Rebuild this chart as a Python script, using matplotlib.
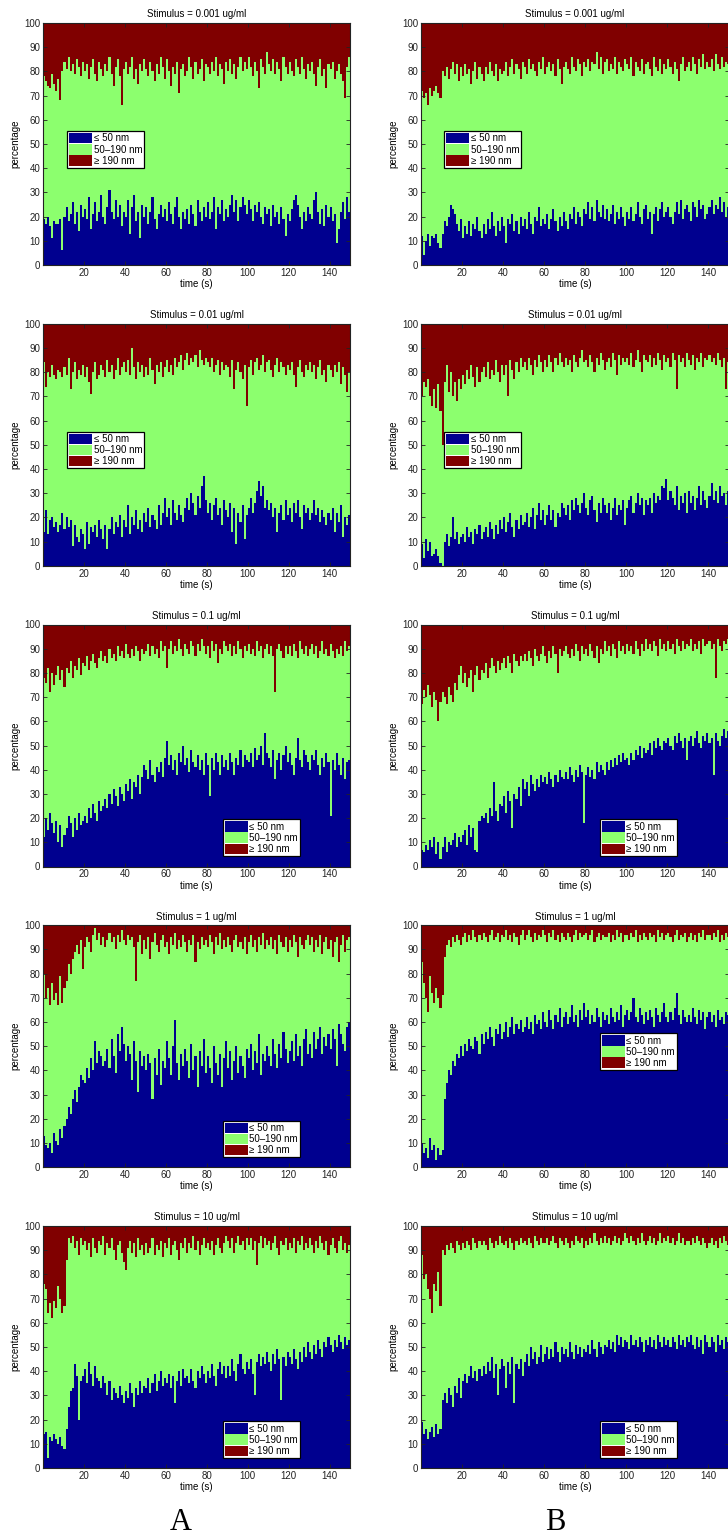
import numpy as np
import matplotlib
matplotlib.use("Agg")
import matplotlib.pyplot as plt

plt.rcParams['font.family'] = ['Liberation Sans', 'DejaVu Sans']

# ---- size-class fractions (percent), one value per second, t = 0..149 ----
# "small" = share of particles <= 50 nm ; "upper" = share <= 190 nm (small + mid)

small_A1 = [19,17,20,16,11,18,17,17,19,6, 20,24,18,21,26,17,22,14,25,20,
            23,19,28,15,21,26,18,22,29,20, 17,24,31,22,19,27,20,25,16,22,
            20,27,13,24,29,18,22,11,25,20, 24,17,22,28,19,15,21,25,20,23,
            18,26,21,17,24,28,20,15,22,19, 23,17,25,21,16,27,22,18,24,20,
            26,19,22,28,15,24,21,27,18,23, 20,25,29,22,27,18,24,28,25,21,
            27,23,18,25,22,26,20,17,24,21, 23,16,25,20,22,17,24,19,12,21,
            18,23,27,29,25,20,15,22,18,24, 21,19,27,30,22,17,23,16,25,20,
            24,18,21,9,15,22,26,19,28,22]
upper_A1 = [78,76,74,73,79,75,72,77,68,80, 84,81,86,80,83,79,85,82,78,84,
            80,83,77,82,85,79,76,84,81,78, 83,80,86,79,74,82,85,78,66,81,
            84,79,82,86,77,81,75,83,80,85, 81,78,84,80,76,83,79,86,82,77,
            85,80,74,82,79,84,71,81,83,78, 80,86,82,77,84,79,81,85,76,83,
            82,79,84,80,86,78,83,81,75,84, 80,85,79,83,77,82,86,80,84,81,
            86,82,78,84,80,73,85,82,79,88, 83,80,85,79,84,81,76,86,82,79,
            84,80,78,85,82,79,86,81,77,83, 80,84,79,74,82,85,78,81,73,83,
            81,84,77,80,83,79,76,69,82,86]

small_B1 = [12,4,10,13,8,12,11,13,9,7, 13,18,16,20,25,23,21,17,14,19,
            11,16,13,18,12,17,15,20,14,11, 17,13,19,15,22,16,12,18,14,20,
            16,9,19,17,21,14,18,13,20,16, 19,15,22,17,13,20,18,24,16,19,
            17,21,15,19,23,18,14,20,16,22, 18,15,21,19,24,17,22,20,16,23,
            21,26,19,24,18,27,22,20,25,19, 23,18,21,25,17,22,19,24,20,16,
            22,19,24,18,21,26,20,17,23,25, 19,22,13,21,24,18,23,26,20,22,
            24,20,17,22,26,21,27,19,23,25, 22,18,26,24,20,27,23,25,19,21,
            24,27,21,25,23,28,22,26,20,24]
upper_B1 = [72,69,71,66,73,70,72,74,71,69, 80,78,82,77,81,84,79,83,76,82,
            78,83,79,81,75,80,84,77,82,79, 76,82,79,84,80,78,83,76,81,79,
            80,84,78,82,85,79,83,81,77,84, 82,79,85,81,83,80,78,84,81,86,
            79,82,84,80,83,78,85,81,75,82, 84,81,79,86,82,80,85,83,78,84,
            82,85,80,84,83,88,81,86,79,84, 85,80,83,81,86,79,84,82,80,85,
            83,81,86,78,84,82,80,85,79,83, 84,81,78,86,82,80,85,79,83,81,
            85,82,79,84,81,76,83,86,80,82, 84,80,86,83,79,85,82,87,81,84,
            82,85,80,87,83,81,86,82,84,83]

small_A2 = [14,23,13,19,20,16,18,14,17,22, 15,20,16,19,8,17,12,10,15,13,
            7,18,9,16,14,17,12,19,15,11, 17,7,15,20,13,18,16,21,12,19,
            16,25,13,20,17,23,15,19,14,22, 18,24,16,21,19,15,25,17,22,28,
            20,24,17,27,22,19,25,21,18,24, 28,23,30,26,21,29,24,33,37,27,
            22,26,19,25,28,21,24,17,27,23, 20,26,14,24,9,22,18,25,11,21,
            24,28,22,26,31,35,29,33,24,27, 23,26,20,24,14,22,25,19,27,21,
            24,18,26,22,27,20,15,25,22,24, 19,22,27,21,24,18,23,20,17,22,
            19,24,14,22,18,25,12,20,17,21]
upper_A2 = [84,74,80,78,83,79,77,81,80,78, 82,79,86,73,80,84,77,81,79,83,
            78,82,76,71,80,84,77,79,83,81, 78,85,80,83,77,81,86,79,82,84,
            80,85,79,90,82,77,84,80,83,78, 82,79,86,81,75,83,80,84,78,82,
            85,80,83,79,86,82,84,87,81,85, 88,83,86,84,87,82,89,85,83,86,
            84,82,86,80,83,85,79,84,81,83, 82,78,85,73,81,84,80,77,83,66,
            82,85,79,84,86,81,83,87,80,84, 85,81,78,83,86,80,84,82,79,83,
            81,84,79,74,82,85,80,78,83,81, 84,80,83,77,82,85,79,81,76,83,
            81,78,83,80,84,75,82,79,72,80]

small_B2 = [9,3,11,6,10,4,5,7,4,1, 0,10,13,8,12,20,11,14,9,12,
            13,10,16,12,14,9,15,13,17,11, 14,16,12,18,15,11,17,13,19,15,
            20,14,18,22,16,12,19,15,21,17, 18,22,16,20,24,15,21,26,19,23,
            17,21,25,19,23,16,22,20,26,24, 21,25,19,27,23,28,25,22,26,30,
            24,21,27,29,23,18,26,22,28,25, 22,26,19,24,28,21,25,23,27,17,
            24,27,29,22,26,30,25,28,21,27, 25,28,22,30,26,29,27,33,32,36,
            27,31,28,25,33,23,29,26,30,22, 31,26,29,23,28,33,25,31,27,24,
            29,34,27,31,26,33,29,30,25,31]
upper_B2 = [70,76,74,77,70,66,73,65,75,64, 50,76,83,72,80,70,76,68,77,73,
            79,75,81,77,83,78,74,82,76,80, 82,78,84,77,81,79,85,80,76,83,
            79,83,70,85,81,77,84,80,86,82, 84,81,86,83,79,85,82,87,84,80,
            85,82,87,84,80,86,83,88,84,82, 86,83,85,80,87,84,82,86,89,84,
            85,82,87,84,80,86,83,88,85,81, 84,86,82,88,85,79,87,83,86,84,
            86,83,88,82,85,89,84,80,87,85, 84,87,82,86,83,88,85,81,87,84,
            86,82,88,85,73,87,84,86,82,88, 85,83,87,81,86,84,88,82,86,85,
            87,84,86,83,88,85,82,86,73,84]

small_A3 = [12,20,15,22,18,14,19,10,17,8, 13,16,21,18,12,20,15,22,17,19,
            21,18,24,20,26,22,19,27,23,25, 28,24,30,26,32,29,25,33,30,27,
            34,31,36,28,35,33,38,30,37,42, 40,36,44,38,35,41,39,43,37,45,
            52,42,46,40,44,38,47,43,50,42, 45,39,48,43,41,46,40,44,38,47,
            42,29,45,40,47,43,38,46,41,44, 40,47,43,38,45,42,48,41,46,44,
            43,47,41,49,44,46,50,42,55,47, 45,41,48,36,44,47,40,46,50,43,
            47,42,38,45,53,44,41,48,46,43, 40,46,44,48,42,38,45,41,47,43,
            21,44,40,47,42,38,45,36,43,44]
upper_A3 = [78,76,82,72,80,75,79,83,77,81, 74,82,80,85,78,83,81,86,79,84,
            83,87,81,85,88,84,82,86,89,85, 87,84,90,86,88,85,91,87,89,86,
            92,88,86,90,87,91,89,85,90,88, 89,92,87,91,88,90,86,93,89,91,
            82,90,93,88,91,89,94,90,87,92, 90,88,93,91,87,92,89,94,91,88,
            91,86,93,89,92,84,90,88,93,91, 89,92,87,91,88,93,90,86,91,89,
            92,88,90,87,93,89,91,86,90,92, 88,91,87,72,90,92,89,86,91,88,
            91,87,92,89,86,93,90,88,91,87, 90,92,88,91,86,89,93,88,90,87,
            92,89,86,90,88,91,87,93,89,91]

small_B3 = [7,6,9,7,11,8,12,5,10,3, 8,12,6,10,9,11,14,8,12,10,
            13,15,9,17,12,16,7,6,19,21, 20,22,18,24,21,35,23,19,26,25,
            29,22,31,27,16,30,28,33,25,36, 32,35,29,38,34,31,36,33,38,35,
            37,34,39,36,33,38,35,40,37,36, 39,36,41,38,35,40,37,42,39,18,
            38,41,37,40,36,43,39,42,40,38, 43,40,44,41,45,42,46,43,47,44,
            45,42,47,44,48,46,50,45,49,47, 48,51,46,52,49,53,50,48,52,51,
            53,50,48,54,51,55,52,49,53,44, 52,54,50,53,56,51,49,54,52,55,
            51,53,38,55,52,50,54,57,53,56]
upper_B3 = [67,73,70,75,71,66,72,69,60,68, 72,70,67,74,71,68,76,73,79,83,
            76,80,74,78,81,72,79,83,77,81, 80,84,78,82,86,83,80,85,81,84,
            86,82,87,84,80,88,85,83,87,85, 88,85,89,86,83,90,87,85,88,91,
            87,84,89,86,91,88,80,90,87,89, 91,88,86,90,87,92,89,85,91,88,
            90,87,92,89,86,91,84,90,88,93, 89,91,87,92,90,86,93,89,91,88,
            92,89,91,88,93,90,87,92,89,94, 90,92,89,93,91,87,94,90,92,89,
            93,90,92,88,94,91,89,93,90,92, 91,94,89,92,90,93,88,94,91,92,
            93,90,92,78,94,91,89,93,92,94]

small_A4 = [13,9,8,10,6,14,11,9,16,12, 17,20,25,22,28,32,27,33,38,36,
            35,41,37,45,40,52,43,48,46,42, 44,49,41,53,46,39,55,48,58,51,
            44,50,47,36,52,44,31,48,42,46, 40,47,43,28,45,38,49,34,44,41,
            52,45,38,50,61,43,36,47,42,49, 44,37,51,40,46,33,48,42,53,39,
            46,41,35,50,43,38,47,33,45,52, 41,48,36,44,50,39,46,42,37,49,
            45,51,40,48,43,55,38,47,44,50, 46,42,53,47,41,51,45,56,49,43,
            48,52,44,55,46,50,42,53,57,47, 51,45,56,49,53,58,47,54,50,55,
            49,57,53,42,59,55,51,48,58,60]
upper_A4 = [80,70,74,67,76,69,72,67,79,68, 74,77,84,80,86,89,92,88,94,82,
            91,95,93,89,96,99,94,97,92,95, 91,94,97,93,95,90,96,93,98,94,
            92,96,94,95,91,77,93,96,88,94, 90,95,86,93,97,92,89,94,96,91,
            93,88,95,92,97,90,94,91,96,93, 89,94,92,96,85,93,90,95,92,94,
            91,96,93,88,95,92,97,90,94,91, 95,92,89,94,96,91,93,90,95,88,
            93,96,91,94,89,95,92,97,90,94, 92,95,90,94,88,96,93,91,95,89,
            94,91,96,93,87,95,92,90,94,96, 92,95,89,94,91,96,88,93,95,90,
            94,87,93,95,85,92,96,89,94,95]

small_B4 = [10,6,8,4,12,7,9,3,8,5, 7,28,35,40,38,44,42,47,45,50,
            46,51,48,53,50,49,54,52,47,55, 51,56,53,58,54,50,57,55,59,53,
            56,60,54,58,62,55,59,57,61,56, 58,62,57,60,55,63,59,61,57,64,
            60,58,65,61,57,63,60,66,58,62, 64,59,62,67,60,63,58,65,61,68,
            62,65,59,63,60,66,62,58,64,61, 63,59,66,62,60,64,61,67,58,63,
            65,61,64,70,62,60,66,63,59,64, 61,65,62,58,66,63,60,64,68,62,
            60,64,61,66,72,63,59,65,62,60, 63,60,66,62,59,65,61,64,57,62,
            64,60,63,58,65,61,62,59,64,63]
upper_B4 = [85,76,70,64,79,72,68,74,70,66, 71,87,92,94,91,95,93,96,94,92,
            95,97,93,96,94,98,95,93,96,94, 97,95,93,96,98,94,95,97,93,96,
            95,98,94,96,93,97,95,92,96,98, 94,96,98,95,93,97,94,96,95,98,
            96,93,97,95,98,94,96,93,97,95, 94,97,95,93,96,98,94,97,95,96,
            97,94,96,98,93,95,97,94,96,95, 95,97,93,96,94,98,95,97,93,96,
            96,94,97,95,98,93,96,94,97,95, 94,97,95,96,93,98,95,97,94,96,
            97,95,93,96,98,94,96,95,97,93, 95,97,94,96,93,97,95,98,94,96,
            96,94,97,95,98,93,96,94,97,95]

small_A5 = [14,15,4,13,11,14,12,10,13,9, 8,16,25,32,33,43,38,20,36,38,
            41,35,44,39,34,42,37,36,33,38, 35,30,36,28,33,31,29,34,30,27,
            32,29,35,31,25,33,30,36,31,34, 33,37,31,35,39,32,36,40,34,37,
            35,39,33,38,27,36,40,34,41,37, 38,35,41,36,33,40,37,42,39,35,
            40,37,43,38,34,41,44,39,42,37, 42,38,45,40,36,43,47,41,39,44,
            41,45,39,30,44,47,42,46,43,48, 44,40,47,43,49,45,28,46,42,48,
            46,43,49,45,41,48,44,50,46,52, 48,45,51,47,53,49,46,52,50,54,
            51,48,53,50,55,52,49,54,51,53]
upper_A5 = [76,74,64,68,62,69,66,75,70,64, 67,86,95,93,96,91,94,88,95,92,
            94,90,93,87,95,91,89,94,92,96, 88,93,91,95,90,86,92,94,89,85,
            82,91,94,89,93,87,95,90,92,88, 93,89,91,95,88,92,90,94,87,93,
            91,95,88,92,94,90,86,93,91,95, 89,93,91,96,90,94,88,92,95,91,
            93,90,94,88,92,95,91,89,93,96, 94,91,95,89,93,96,92,94,90,95,
            92,95,90,94,84,93,96,91,95,92, 94,90,93,96,91,88,94,92,95,90,
            93,91,95,89,94,92,96,90,93,91, 95,92,89,94,91,96,93,90,94,88,
            92,95,91,89,94,96,90,93,89,92]

small_B5 = [19,14,16,12,15,17,13,18,14,16, 28,31,27,33,30,25,34,31,37,29,
            36,39,35,38,42,37,40,36,41,38, 42,39,44,40,46,37,43,30,41,45,
            42,33,44,39,46,27,43,41,45,38, 44,47,42,50,45,48,43,46,51,44,
            47,50,45,49,46,52,48,44,50,47, 49,46,52,48,45,51,47,50,46,49,
            48,51,47,53,49,46,52,50,47,51, 50,53,49,52,48,55,51,54,50,53,
            52,49,55,51,53,50,54,52,48,53, 51,54,50,53,49,55,52,50,54,51,
            53,50,54,52,49,55,51,53,50,54, 52,55,51,49,54,50,53,47,55,52,
            50,54,52,48,55,51,53,49,54,52]
upper_B5 = [88,78,80,74,70,64,76,73,81,67, 90,88,92,90,93,91,89,94,92,90,
            93,91,94,92,90,95,93,91,94,92, 94,92,90,95,93,91,94,92,96,93,
            92,94,91,95,93,90,94,92,95,93, 94,92,95,93,91,96,94,92,95,93,
            93,95,92,94,96,93,91,95,94,92, 95,93,91,94,92,96,94,93,95,91,
            94,92,95,93,97,94,92,95,93,96, 93,95,92,94,96,93,95,92,94,97,
            95,93,96,94,92,95,93,97,94,92, 94,96,93,95,92,94,97,93,95,94,
            96,93,95,92,94,97,93,95,92,94, 94,92,95,93,96,94,92,95,93,91,
            93,95,92,94,91,95,93,96,94,92]

stimulus = ['0.001', '0.01', '0.1', '1', '10']
size_classes = ['\u2264 50 nm', '50\u2013190 nm', '\u2265 190 nm']
column_titles = ['A', 'B']

small_cols = [[small_A1, small_A2, small_A3, small_A4, small_A5],
              [small_B1, small_B2, small_B3, small_B4, small_B5]]
upper_cols = [[upper_A1, upper_A2, upper_A3, upper_A4, upper_A5],
              [upper_B1, upper_B2, upper_B3, upper_B4, upper_B5]]

# legend placement per panel: (loc, anchor x, anchor y) in axes fractions
legend_pos = [
    [('upper left', 0.078, 0.554), ('upper left', 0.078, 0.554),
     ('lower right', 0.837, 0.043), ('lower right', 0.837, 0.041),
     ('lower right', 0.837, 0.041)],
    [('upper left', 0.075, 0.554), ('upper left', 0.075, 0.554),
     ('lower right', 0.831, 0.043), ('upper right', 0.831, 0.554),
     ('lower right', 0.831, 0.041)],
]

c_small = '#00008F'
c_mid = '#8CFF6E'
c_large = '#800000'

W, H = 728, 1540
fig = plt.figure(figsize=(W / 100, H / 100), dpi=100)

col_x = [43, 421]
col_w = [307, 308]
row_top0, row_step, ax_h = 23, 300.75, 242

edges = np.arange(151)

for c in range(2):
    for r in range(5):
        top = row_top0 + r * row_step
        ax = fig.add_axes([col_x[c] / W, 1 - (top + ax_h) / H,
                           col_w[c] / W, ax_h / H])
        small = np.asarray(small_cols[c][r], dtype=float)
        upper = np.asarray(upper_cols[c][r], dtype=float)
        s = np.append(small, small[-1])
        u = np.append(upper, upper[-1])
        h1 = ax.fill_between(edges, 0, s, step='post', color=c_small,
                             linewidth=0, antialiased=False)
        h2 = ax.fill_between(edges, s, u, step='post', color=c_mid,
                             linewidth=0, antialiased=False)
        h3 = ax.fill_between(edges, u, 100, step='post', color=c_large,
                             linewidth=0, antialiased=False)
        ax.set_xlim(0, 150)
        ax.set_ylim(0, 100)
        ax.set_xticks(np.arange(20, 141, 20))
        ax.set_yticks(np.arange(0, 101, 10))
        ax.tick_params(direction='in', length=3, width=0.6, labelsize=7,
                       top=True, right=True, pad=2, colors='#222222')
        for sp in ax.spines.values():
            sp.set_linewidth(0.8)
            sp.set_color('#222222')
        ax.set_title(f'Stimulus = {stimulus[r]} ug/ml', fontsize=7, pad=4)
        ax.set_xlabel('time (s)', fontsize=7, labelpad=1)
        ax.set_ylabel('percentage', fontsize=7, labelpad=3)

        loc, lx, ly = legend_pos[c][r]
        leg = ax.legend([h1, h2, h3], size_classes, loc=loc,
                        bbox_to_anchor=(lx, ly), borderaxespad=0,
                        fontsize=7, handlelength=2.4, handleheight=1.3,
                        labelspacing=0.05, handletextpad=0.15,
                        borderpad=0.2, fancybox=False, framealpha=1)
        leg.get_frame().set_edgecolor('black')
        leg.get_frame().set_linewidth(0.9)

for c, lab in enumerate(column_titles):
    cx = [181, 555][c]
    fig.text(cx / W, 1 - 1522 / H, lab, ha='center', va='center',
             fontsize=22, family=['Liberation Serif', 'DejaVu Serif'])

fig.savefig('out.png', dpi=100)
